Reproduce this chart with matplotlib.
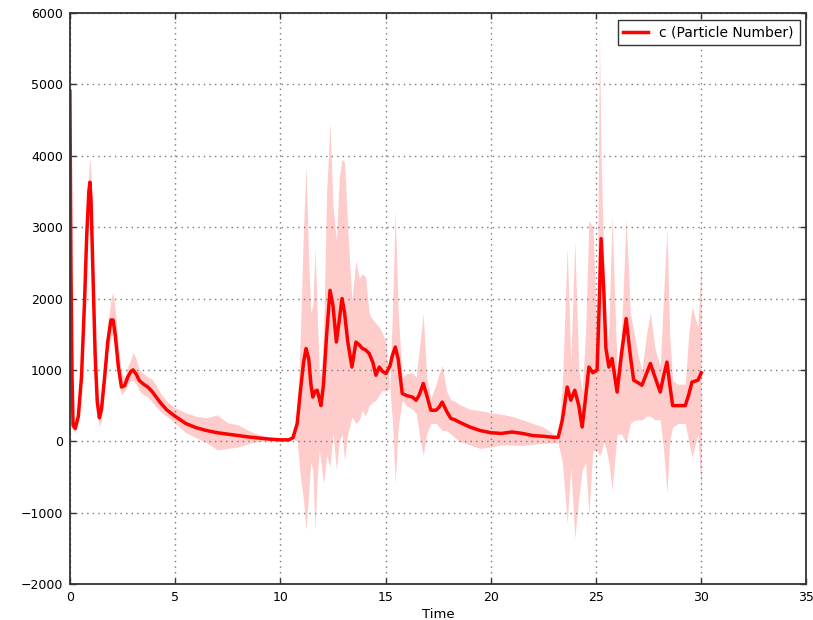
import matplotlib
matplotlib.use("Agg")
import matplotlib.pyplot as plt
import numpy as np

# ---- data ----
t = [0, 0.05, 0.1, 0.15, 0.25, 0.4, 0.55, 0.7, 0.8, 0.9, 0.95, 1.0, 1.1, 1.2, 1.3, 1.4, 1.5, 1.65, 1.8, 1.95,
     2.05, 2.15, 2.3, 2.45, 2.6, 2.75, 2.9, 3.0, 3.15, 3.3, 3.5, 3.7, 3.9, 4.1, 4.3, 4.6, 5.0, 5.5, 6.0, 6.5,
     7.0, 7.5, 8.0, 8.5, 9.0, 9.5, 10.0, 10.4,
     10.6, 10.8, 10.95, 11.1, 11.22, 11.35, 11.45, 11.54, 11.65, 11.75, 11.85, 11.93, 12.05, 12.2, 12.36, 12.5,
     12.66, 12.8, 12.93, 13.05, 13.2, 13.4, 13.59, 13.75, 13.9, 14.05, 14.22, 14.4, 14.54, 14.7, 14.85, 15.02,
     15.2, 15.32, 15.46, 15.6, 15.79, 16.0, 16.27, 16.45, 16.6, 16.79, 16.95, 17.15, 17.4, 17.55, 17.69, 17.9,
     18.1, 18.3, 18.49,
     19.0, 19.5, 20.0, 20.5, 21.0, 21.5, 22.0, 22.5, 23.0, 23.2,
     23.4, 23.63, 23.8, 23.99, 24.18, 24.34, 24.5, 24.66, 24.85, 25.05, 25.16, 25.24, 25.37, 25.47, 25.61, 25.76,
     26.0, 26.2, 26.43, 26.63, 26.79, 27.0, 27.18, 27.4, 27.58, 27.8, 28.05, 28.2, 28.37, 28.5, 28.64, 28.9,
     29.24, 29.4, 29.56, 29.84, 30.0]

mean = [4900, 2400, 900, 220, 180, 350, 900, 2000, 2900, 3500, 3630, 3400, 2300, 1200, 550, 330, 450, 900, 1400, 1700,
        1700, 1500, 1050, 760, 780, 900, 980, 1000, 940, 850, 800, 760, 700, 620, 540, 440, 350, 250, 190, 150,
        120, 100, 80, 60, 45, 30, 20, 20,
        50, 250, 700, 1100, 1300, 1150, 800, 620, 700, 715, 600, 500, 800, 1500, 2115, 1900,
        1390, 1700, 2000, 1800, 1400, 1040, 1390, 1350, 1300, 1280, 1230, 1100, 925, 1040, 980, 950,
        1050, 1200, 1320, 1150, 670, 640, 620, 575, 650, 810, 650, 435, 435, 480, 550, 420,
        320, 300, 270,
        200, 150, 120, 110, 130, 110, 80, 70, 55, 55,
        300, 760, 575, 715, 500, 200, 600, 1040, 960, 1000, 2000, 2840, 2100, 1300, 1040, 1160,
        690, 1200, 1720, 1200, 855, 820, 785, 950, 1090, 900, 690, 900, 1110, 800, 500, 500,
        500, 650, 830, 855, 960]

upper = [4950, 2500, 1000, 300, 260, 450, 1050, 2200, 3150, 3800, 3960, 3750, 2600, 1400, 700, 480, 600, 1050, 1650, 2000,
         2090, 1850, 1350, 950, 900, 1050, 1150, 1250, 1150, 1000, 950, 900, 870, 780, 680, 560, 470, 400, 350, 330,
         370, 260, 230, 150, 90, 60, 40, 30,
         60, 400, 1500, 3000, 3865, 2500, 1800, 1900, 2720, 1800, 1000, 900, 1500, 3500, 4470, 3300,
         2815, 3700, 3960, 3900, 3000, 1975, 2535, 2280, 2350, 2300, 1790, 1700, 1650, 1600, 1510, 1400,
         700, 1800, 3235, 1800, 900, 950, 960, 900, 1300, 1790, 900, 600, 800, 950, 1065, 700,
         580, 560, 520,
         450, 430, 400, 380, 350, 300, 250, 200, 100, 80,
         800, 2720, 1110, 2815, 1000, 700, 1500, 3095, 3000, 1500, 5750, 4000, 2500, 1090, 1600, 3165,
         1000, 1500, 3120, 1800, 1550, 1200, 1000, 1500, 1800, 1300, 1050, 2000, 2980, 1500, 855, 800,
         800, 1500, 1880, 1600, 2580]

lower = [4850, 2300, 800, 150, 120, 250, 750, 1800, 2650, 3200, 3350, 3100, 2000, 1000, 400, 200, 300, 750, 1250, 1450,
         1500, 1300, 850, 650, 700, 800, 850, 850, 800, 700, 650, 620, 550, 480, 420, 350, 250, 120, 50, -20,
         -120, -100, -80, -30, 0, 10, 5, 10,
         40, 0, -500, -830, -1250, -700, -300, -400, -1250, -500, -130, -300, -590, -200, -360, 110,
         -400, 0, 100, -270, 100, 340, 250, 300, 435, 350, 500, 550, 575, 650, 715, 700,
         750, 300, -590, 200, 575, 500, 450, 400, 100, -200, 100, 250, 250, 200, 150, 150,
         100, 50, 0,
         -50, -100, -80, -50, -50, -60, -40, -30, -20, -30,
         -300, -1150, -365, -1360, -800, -400, -300, -1010, -130, -130, -200, -170, 0, -100, -300, -690,
         100, 100, -20, 250, 290, 300, 300, 350, 350, 300, 300, -100, -730, 0, 200, 250,
         250, 0, -220, 100, -760]

xticks = [0, 5, 10, 15, 20, 25, 30, 35]
yticks = [-2000, -1000, 0, 1000, 2000, 3000, 4000, 5000, 6000]
series_label = "c (Particle Number)"
xlabel = "Time"

# ---- plot ----
plt.rcParams['font.family'] = ['DejaVu Sans']
fig = plt.figure(figsize=(8.13, 6.2), dpi=100)
ax = fig.add_axes([0.086, 0.058, 0.906, 0.921])

ax.fill_between(t, lower, upper, color='red', alpha=0.2, linewidth=0)
ax.plot(t, mean, color='red', linewidth=2.5, label=series_label)

ax.set_xlim(0, 35)
ax.set_ylim(-2000, 6000)
ax.set_xticks(xticks)
ax.set_yticks(yticks)
ax.set_xticklabels([str(v) for v in xticks])
ax.set_yticklabels([str(v).replace('-', '\u2212') for v in yticks])
ax.grid(True, linestyle=(0, (1, 3)), color='#777777', linewidth=1.0)
ax.tick_params(direction='in', length=4, width=1, labelsize=9, top=True, right=True, colors='#333333',
               labelcolor='black', pad=5)
for s in ax.spines.values():
    s.set_linewidth(1.3)
    s.set_color('#333333')
ax.set_xlabel(xlabel, fontsize=9.5, labelpad=3)

leg = ax.legend(loc='upper right', fontsize=10, fancybox=False, framealpha=1, edgecolor='#333333',
                handlelength=1.8, borderaxespad=0.5)
leg.get_frame().set_linewidth(1.0)

fig.savefig('out.png', dpi=100)
